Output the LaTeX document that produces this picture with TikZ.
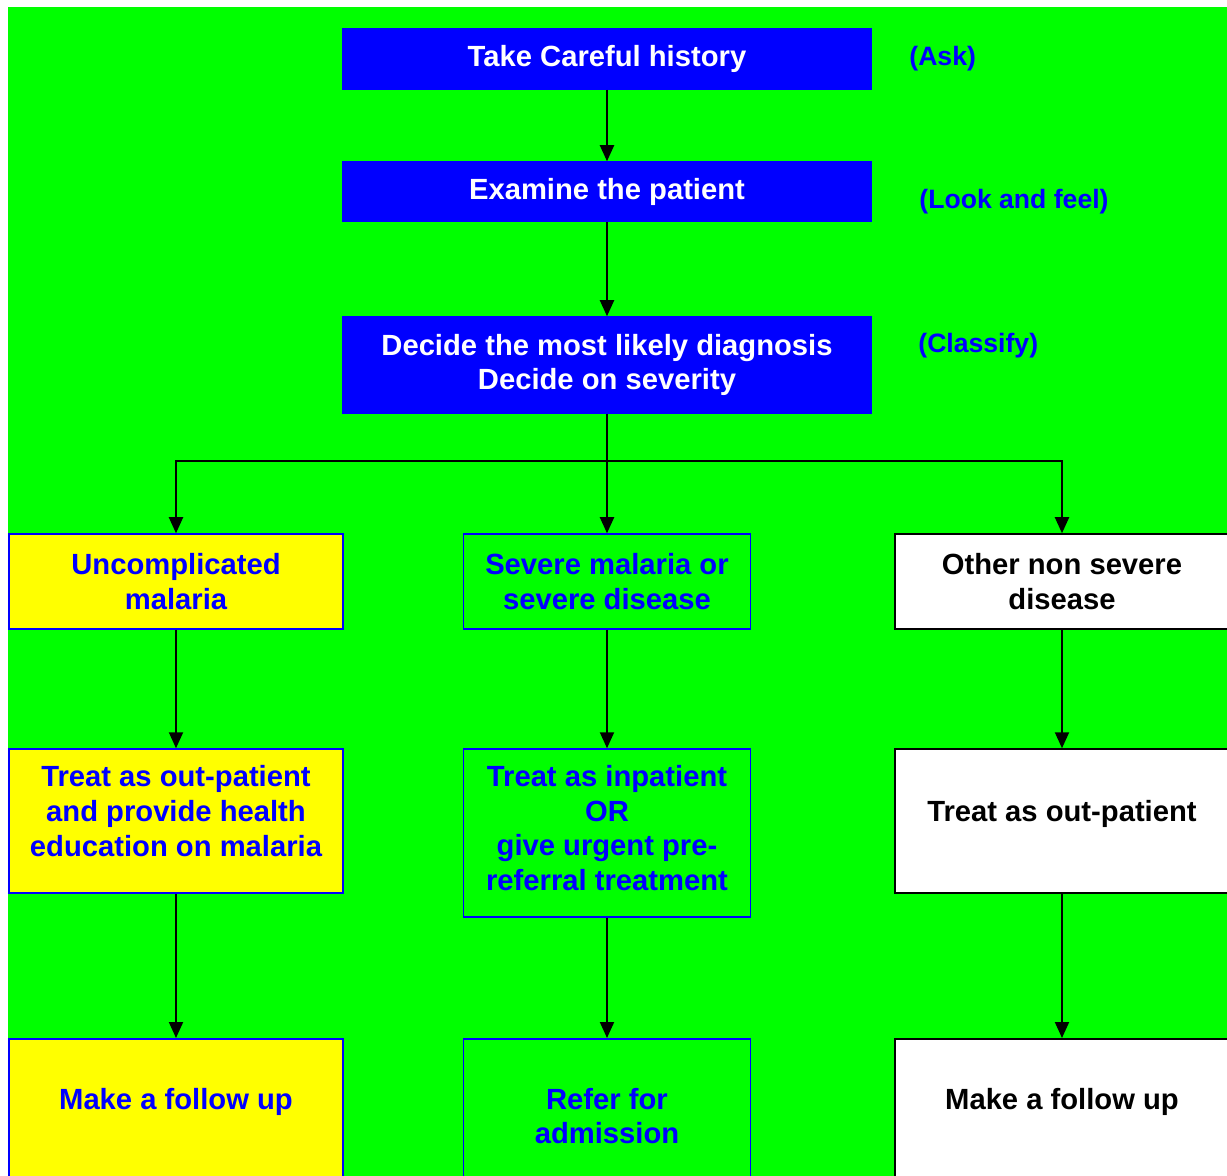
\documentclass[tikz,border=0pt]{standalone}
\usepackage{fontspec}
\setmainfont{Liberation Sans}
\usetikzlibrary{arrows.meta}
\tikzset{>={Triangle[length=8pt,width=7pt]}}
\definecolor{bgreen}{RGB}{0,255,0}
\definecolor{pblue}{RGB}{0,0,255}
\definecolor{pyellow}{RGB}{255,255,0}
\newcommand{\boxfont}{\fontsize{14.6}{17.4}\selectfont\bfseries}
\tikzset{
    box/.style={draw, line width=0.75pt, inner sep=0pt, align=center, font=\boxfont},
    topbox/.style={box, fill=pblue, draw=pblue, text=white, minimum width=264pt},
    lbox/.style={box, fill=pyellow, draw=pblue, text=pblue, minimum width=167pt},
    cbox/.style={box, fill=bgreen, draw=pblue, text=pblue, minimum width=143.5pt},
    rbox/.style={box, fill=white, draw=black, text=black, minimum width=167pt},
    btext/.style={inner sep=0pt, align=center, font=\boxfont},
    tag/.style={anchor=west, inner sep=0pt, text=pblue, font=\fontsize{13.3}{16}\selectfont\bfseries},
    arr/.style={->, line width=1pt}
}

\begin{document}
\begin{tikzpicture}[x=0.5pt, y=-0.5pt]
    \clip (0,0) rectangle (1227,1176);
    \fill[white] (0,0) rectangle (1227,1176);
    \fill[bgreen] (8,7) rectangle (1227,1176);

    \node[topbox, minimum height=30pt] (hist) at (607,59) {Take Careful history};
    \node[topbox, minimum height=29.5pt] (exam) at (607,191.5) {Examine the patient};
    \node[topbox, minimum height=48pt] (diag) at (607,365) {Decide the most likely diagnosis\\Decide on severity};
    \node[tag] (ask) at (909,59) {(Ask)};
    \node[tag] (look) at (919,202) {(Look and feel)};
    \node[tag] (cls) at (918,346) {(Classify)};

    \node[lbox, minimum height=47.5pt] (unc) at (176,581.5) {Uncomplicated\\malaria};
    \node[cbox, minimum height=47.5pt] (sev) at (607,581.5) {Severe malaria or\\severe disease};
    \node[rbox, minimum height=47.5pt] (oth) at (1062,581.5) {Other non severe\\disease};

    \node[lbox, minimum height=72pt] (out1) at (176,821) {};
    \node[btext, text=pblue] at (176,811) {Treat as out-patient\\and provide health\\education on malaria};
    \node[cbox, minimum height=84pt] (inp) at (607,833) {};
    \node[btext, text=pblue] at (607,828) {Treat as inpatient\\OR\\give urgent pre-\\referral treatment};
    \node[rbox, minimum height=72pt] (out2) at (1062,821) {};
    \node[btext] at (1062,814) {Treat as out-patient};

    \node[lbox, minimum height=100pt, anchor=north] (fol1) at (176,1038) {};
    \node[btext, text=pblue] at (176,1102) {Make a follow up};
    \node[cbox, minimum height=100pt, anchor=north] (ref) at (607,1038) {};
    \node[btext, text=pblue] at (607,1116) {Refer for\\admission};
    \node[rbox, minimum height=100pt, anchor=north] (fol2) at (1062,1038) {};
    \node[btext] at (1062,1102) {Make a follow up};

    \coordinate (split) at (607,461);
    \draw[arr] (hist) -- (exam);
    \draw[arr] (exam) -- (diag);
    \draw[line width=1pt] (diag) -- (split);
    \draw[arr] (split) -- (sev);
    \draw[arr] (split) -| (unc);
    \draw[arr] (split) -| (oth);
    \draw[arr] (unc) -- (out1);
    \draw[arr] (sev) -- (inp);
    \draw[arr] (oth) -- (out2);
    \draw[arr] (out1) -- (fol1);
    \draw[arr] (inp) -- (ref);
    \draw[arr] (out2) -- (fol2);
\end{tikzpicture}
\end{document}
